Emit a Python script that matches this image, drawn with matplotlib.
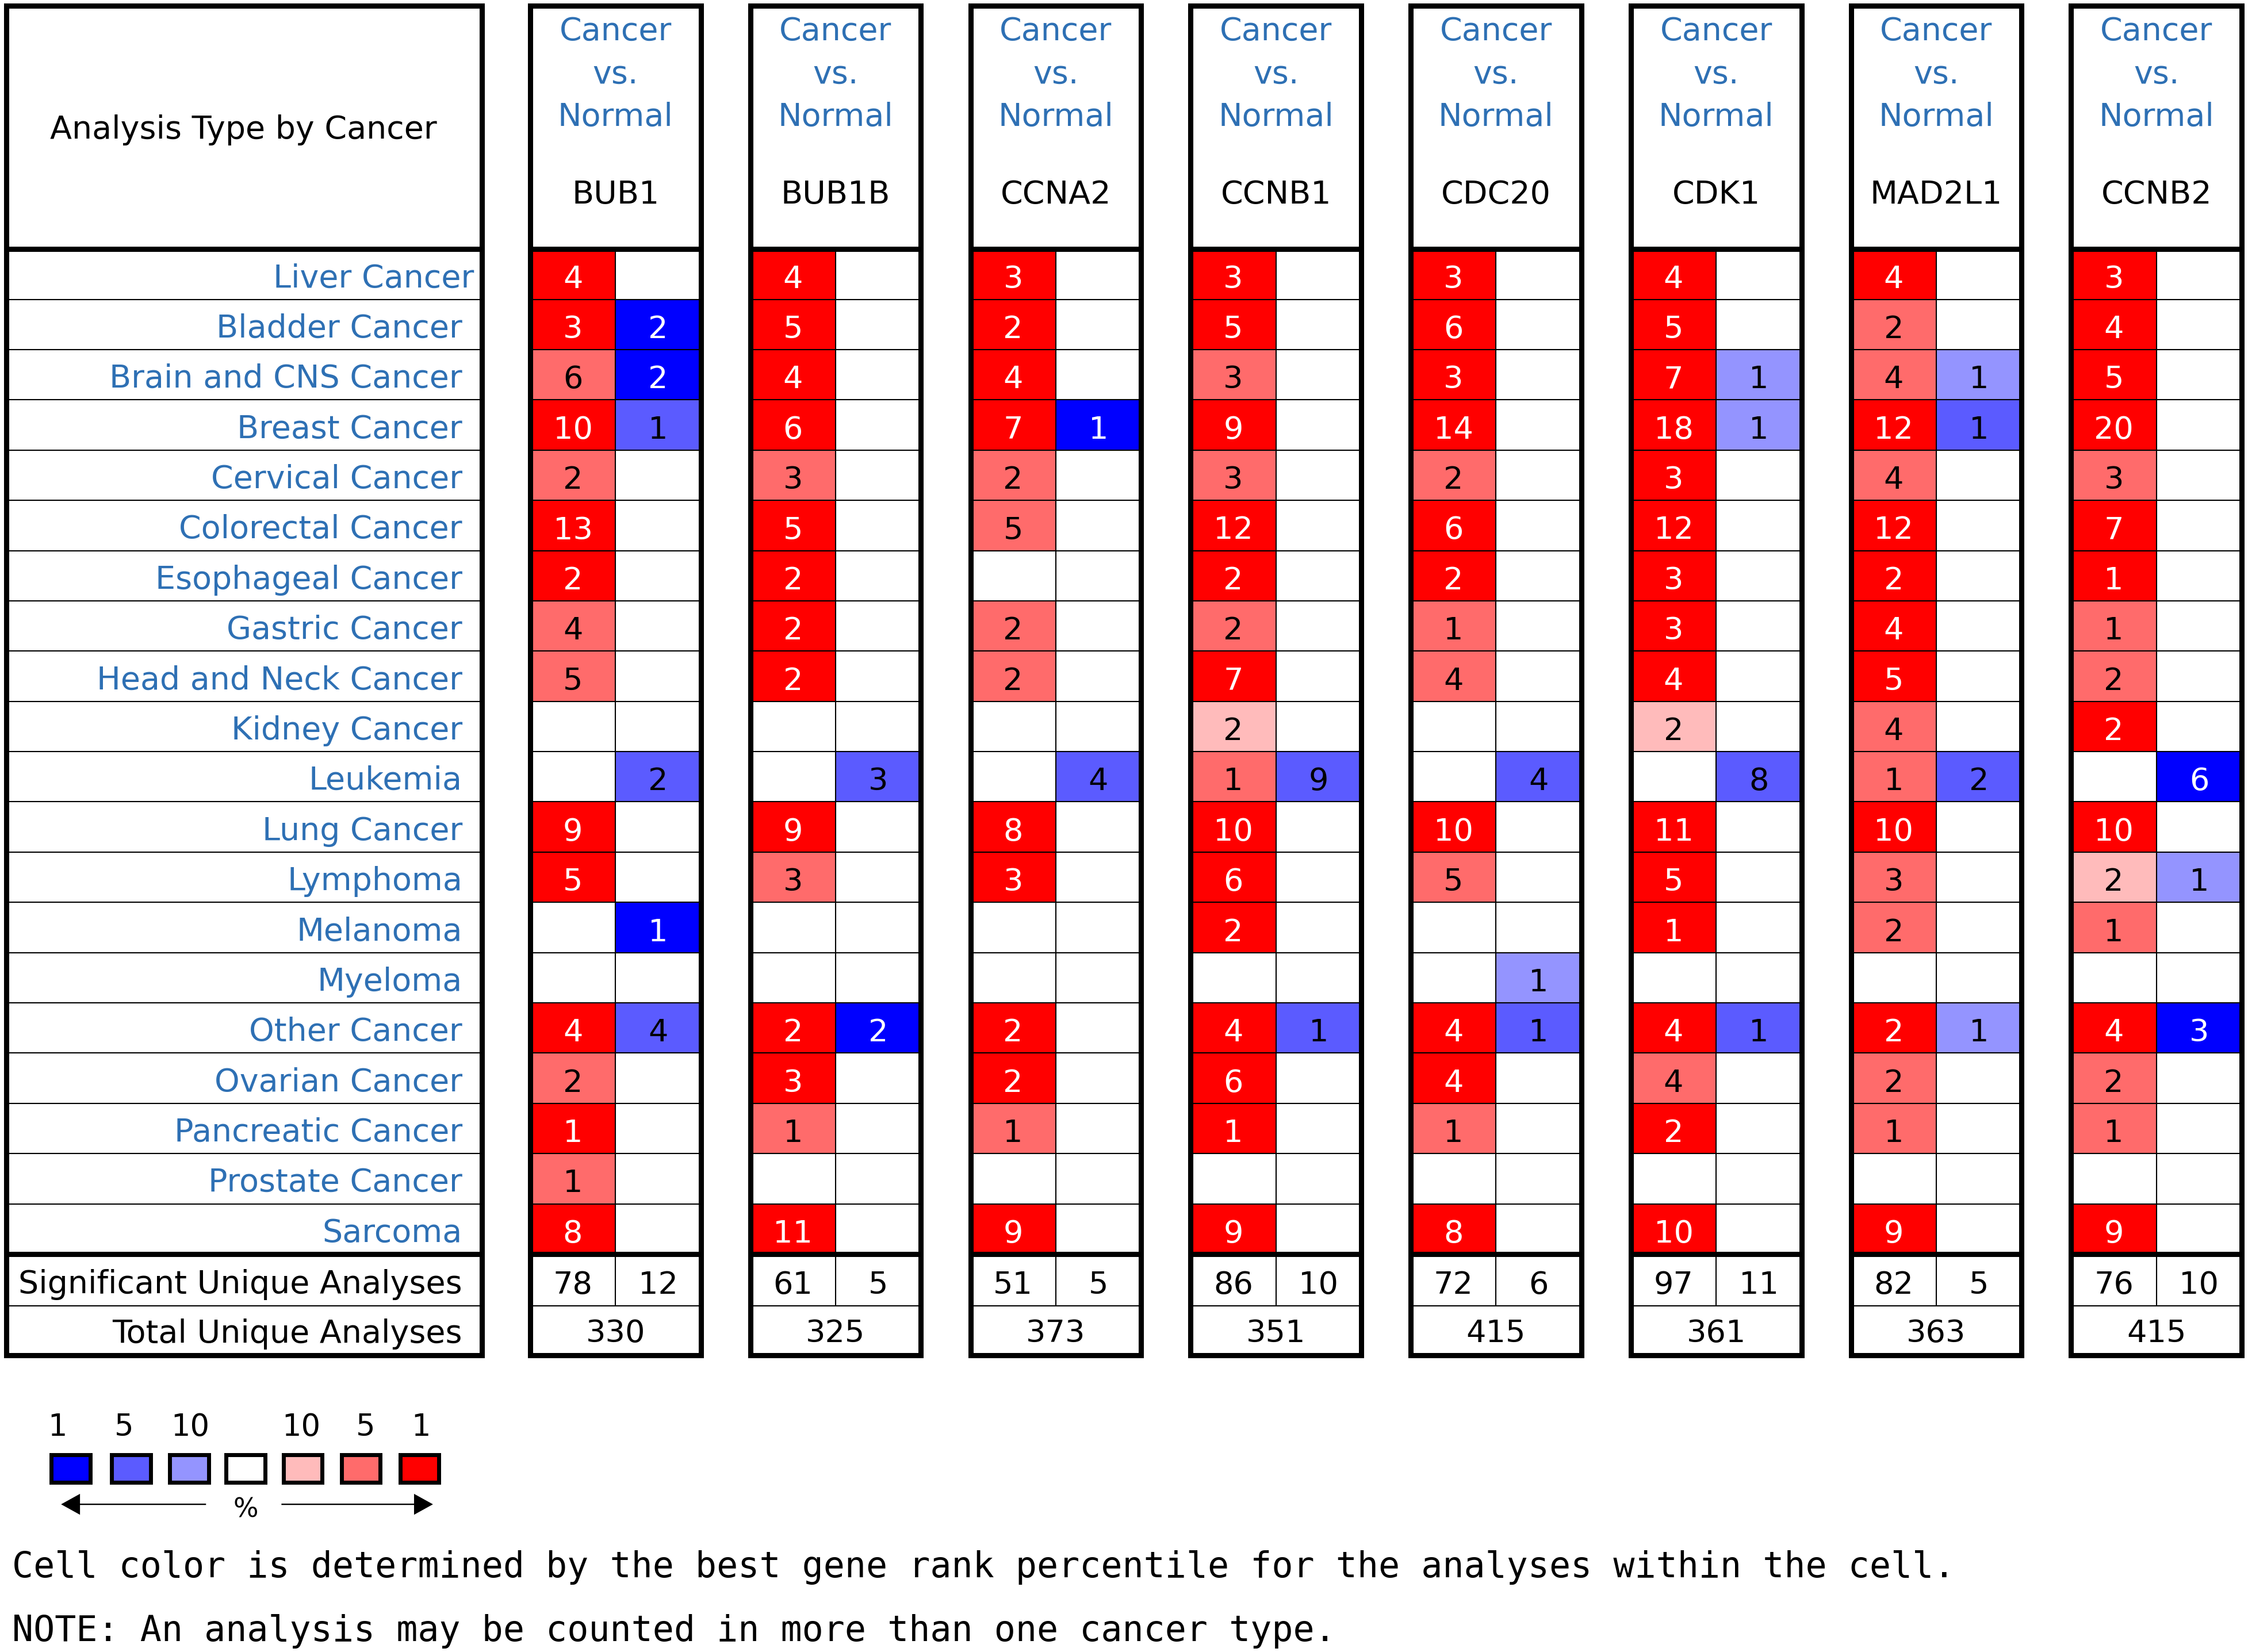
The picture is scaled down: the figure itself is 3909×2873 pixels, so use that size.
import matplotlib
matplotlib.use("Agg")
import matplotlib.pyplot as plt
from matplotlib.patches import Rectangle, FancyArrow

# ---------------- data ----------------
cancers = ["Liver Cancer", "Bladder Cancer", "Brain and CNS Cancer", "Breast Cancer",
           "Cervical Cancer", "Colorectal Cancer", "Esophageal Cancer", "Gastric Cancer",
           "Head and Neck Cancer", "Kidney Cancer", "Leukemia", "Lung Cancer", "Lymphoma",
           "Melanoma", "Myeloma", "Other Cancer", "Ovarian Cancer", "Pancreatic Cancer",
           "Prostate Cancer", "Sarcoma"]
genes = ["BUB1", "BUB1B", "CCNA2", "CCNB1", "CDC20", "CDK1", "MAD2L1", "CCNB2"]

# counts of significant analyses (0 = empty cell) and best gene-rank percentile (1/5/10, 0 = none)
bub1_up       = [4, 3, 6, 10, 2, 13, 2, 4, 5, 0, 0, 9, 5, 0, 0, 4, 2, 1, 1, 8]
bub1_up_pct   = [1, 1, 5, 1, 5, 1, 1, 5, 5, 0, 0, 1, 1, 0, 0, 1, 5, 1, 5, 1]
bub1_dn       = [0, 2, 2, 1, 0, 0, 0, 0, 0, 0, 2, 0, 0, 1, 0, 4, 0, 0, 0, 0]
bub1_dn_pct   = [0, 1, 1, 5, 0, 0, 0, 0, 0, 0, 5, 0, 0, 1, 0, 5, 0, 0, 0, 0]

bub1b_up      = [4, 5, 4, 6, 3, 5, 2, 2, 2, 0, 0, 9, 3, 0, 0, 2, 3, 1, 0, 11]
bub1b_up_pct  = [1, 1, 1, 1, 5, 1, 1, 1, 1, 0, 0, 1, 5, 0, 0, 1, 1, 5, 0, 1]
bub1b_dn      = [0, 0, 0, 0, 0, 0, 0, 0, 0, 0, 3, 0, 0, 0, 0, 2, 0, 0, 0, 0]
bub1b_dn_pct  = [0, 0, 0, 0, 0, 0, 0, 0, 0, 0, 5, 0, 0, 0, 0, 1, 0, 0, 0, 0]

ccna2_up      = [3, 2, 4, 7, 2, 5, 0, 2, 2, 0, 0, 8, 3, 0, 0, 2, 2, 1, 0, 9]
ccna2_up_pct  = [1, 1, 1, 1, 5, 5, 0, 5, 5, 0, 0, 1, 1, 0, 0, 1, 1, 5, 0, 1]
ccna2_dn      = [0, 0, 0, 1, 0, 0, 0, 0, 0, 0, 4, 0, 0, 0, 0, 0, 0, 0, 0, 0]
ccna2_dn_pct  = [0, 0, 0, 1, 0, 0, 0, 0, 0, 0, 5, 0, 0, 0, 0, 0, 0, 0, 0, 0]

ccnb1_up      = [3, 5, 3, 9, 3, 12, 2, 2, 7, 2, 1, 10, 6, 2, 0, 4, 6, 1, 0, 9]
ccnb1_up_pct  = [1, 1, 5, 1, 5, 1, 1, 5, 1, 10, 5, 1, 1, 1, 0, 1, 1, 1, 0, 1]
ccnb1_dn      = [0, 0, 0, 0, 0, 0, 0, 0, 0, 0, 9, 0, 0, 0, 0, 1, 0, 0, 0, 0]
ccnb1_dn_pct  = [0, 0, 0, 0, 0, 0, 0, 0, 0, 0, 5, 0, 0, 0, 0, 5, 0, 0, 0, 0]

cdc20_up      = [3, 6, 3, 14, 2, 6, 2, 1, 4, 0, 0, 10, 5, 0, 0, 4, 4, 1, 0, 8]
cdc20_up_pct  = [1, 1, 1, 1, 5, 1, 1, 5, 5, 0, 0, 1, 5, 0, 0, 1, 1, 5, 0, 1]
cdc20_dn      = [0, 0, 0, 0, 0, 0, 0, 0, 0, 0, 4, 0, 0, 0, 1, 1, 0, 0, 0, 0]
cdc20_dn_pct  = [0, 0, 0, 0, 0, 0, 0, 0, 0, 0, 5, 0, 0, 0, 10, 5, 0, 0, 0, 0]

cdk1_up       = [4, 5, 7, 18, 3, 12, 3, 3, 4, 2, 0, 11, 5, 1, 0, 4, 4, 2, 0, 10]
cdk1_up_pct   = [1, 1, 1, 1, 1, 1, 1, 1, 1, 10, 0, 1, 1, 1, 0, 1, 5, 1, 0, 1]
cdk1_dn       = [0, 0, 1, 1, 0, 0, 0, 0, 0, 0, 8, 0, 0, 0, 0, 1, 0, 0, 0, 0]
cdk1_dn_pct   = [0, 0, 10, 10, 0, 0, 0, 0, 0, 0, 5, 0, 0, 0, 0, 5, 0, 0, 0, 0]

mad2l1_up     = [4, 2, 4, 12, 4, 12, 2, 4, 5, 4, 1, 10, 3, 2, 0, 2, 2, 1, 0, 9]
mad2l1_up_pct = [1, 5, 5, 1, 5, 1, 1, 1, 1, 5, 5, 1, 5, 5, 0, 1, 5, 5, 0, 1]
mad2l1_dn     = [0, 0, 1, 1, 0, 0, 0, 0, 0, 0, 2, 0, 0, 0, 0, 1, 0, 0, 0, 0]
mad2l1_dn_pct = [0, 0, 10, 5, 0, 0, 0, 0, 0, 0, 5, 0, 0, 0, 0, 10, 0, 0, 0, 0]

ccnb2_up      = [3, 4, 5, 20, 3, 7, 1, 1, 2, 2, 0, 10, 2, 1, 0, 4, 2, 1, 0, 9]
ccnb2_up_pct  = [1, 1, 1, 1, 5, 1, 1, 5, 5, 1, 0, 1, 10, 5, 0, 1, 5, 5, 0, 1]
ccnb2_dn      = [0, 0, 0, 0, 0, 0, 0, 0, 0, 0, 6, 0, 1, 0, 0, 3, 0, 0, 0, 0]
ccnb2_dn_pct  = [0, 0, 0, 0, 0, 0, 0, 0, 0, 0, 1, 0, 10, 0, 0, 1, 0, 0, 0, 0]

sig_up   = [78, 61, 51, 86, 72, 97, 82, 76]
sig_down = [12, 5, 5, 10, 6, 11, 5, 10]
total    = [330, 325, 373, 351, 415, 361, 363, 415]

legend_labels = ["1", "5", "10", "", "10", "5", "1"]
note_lines = ["Cell color is determined by the best gene rank percentile for the analyses within the cell.",
              "NOTE: An analysis may be counted in more than one cancer type."]

up_counts = [bub1_up, bub1b_up, ccna2_up, ccnb1_up, cdc20_up, cdk1_up, mad2l1_up, ccnb2_up]
up_pcts = [bub1_up_pct, bub1b_up_pct, ccna2_up_pct, ccnb1_up_pct, cdc20_up_pct, cdk1_up_pct,
           mad2l1_up_pct, ccnb2_up_pct]
dn_counts = [bub1_dn, bub1b_dn, ccna2_dn, ccnb1_dn, cdc20_dn, cdk1_dn, mad2l1_dn, ccnb2_dn]
dn_pcts = [bub1_dn_pct, bub1b_dn_pct, ccna2_dn_pct, ccnb1_dn_pct, cdc20_dn_pct, cdk1_dn_pct,
           mad2l1_dn_pct, ccnb2_dn_pct]

# ---------------- style ----------------
RED = {1: "#FF0000", 5: "#FF6B6B", 10: "#FFBBBB"}
BLUE = {1: "#0000FF", 5: "#5B5BFF", 10: "#9494FF"}
legend_colors = [BLUE[1], BLUE[5], BLUE[10], "#FFFFFF", RED[10], RED[5], RED[1]]
LABEL_BLUE = "#2E70B4"
FONT = "DejaVu Sans"
THICK = 6.5
THIN = 1.5
NUM_FS = 39

fig = plt.figure(figsize=(39.09, 28.73), dpi=100)
ax = fig.add_axes([0, 0, 1, 1])
ax.set_xlim(0, 1568)
ax.set_ylim(1152, 0)
ax.axis("off")

TOP = 4.0
HEAD_BOT = 173.7
ROW_H = 35.04
ROWS_BOT = HEAD_BOT + 20 * ROW_H
SIG_BOT = 910.6
BOT = 945.0
LX0, LX1 = 4.3, 336.0
BX0, BSTEP, BW = 369.8, 153.55, 119.0


def hline(x0, x1, y, lw):
    ax.plot([x0, x1], [y, y], color="black", lw=lw, solid_capstyle="butt", zorder=3)


def vline(x, y0, y1, lw):
    ax.plot([x, x], [y0, y1], color="black", lw=lw, solid_capstyle="butt", zorder=3)


def frame(x0, x1):
    ax.add_patch(Rectangle((x0, TOP), x1 - x0, BOT - TOP, fill=False, ec="black",
                           lw=THICK, joinstyle="miter", zorder=4))
    hline(x0, x1, HEAD_BOT, THICK)
    hline(x0, x1, ROWS_BOT, THICK)
    for k in range(1, 20):
        hline(x0, x1, HEAD_BOT + k * ROW_H, THIN)
    hline(x0, x1, SIG_BOT, THIN)


# ---- left label block ----
frame(LX0, LX1)
ax.text(170, 96.7, "Analysis Type by Cancer", ha="center", va="baseline",
        fontsize=40, family=FONT, color="black")
for i, name in enumerate(cancers):
    top = HEAD_BOT + i * ROW_H
    xr = LX1 - 5.5 if i == 0 else LX1 - 13.5
    ax.text(xr, top + 26.5, name, ha="right", va="baseline",
            fontsize=40, family=FONT, color=LABEL_BLUE)
ax.text(LX1 - 13.5, 901.6, "Significant Unique Analyses", ha="right", va="baseline",
        fontsize=40, family=FONT, color="black")
ax.text(LX1 - 13.5, 936.3, "Total Unique Analyses", ha="right", va="baseline",
        fontsize=40, family=FONT, color="black")

# ---- gene blocks ----
for g, gene in enumerate(genes):
    x0 = BX0 + g * BSTEP
    x1 = x0 + BW
    xm = x0 + BW / 2
    for i in range(len(cancers)):
        top = HEAD_BOT + i * ROW_H
        for cnt, pct, pal, xc, xs in ((up_counts[g][i], up_pcts[g][i], RED, x0 + BW / 4, x0),
                                     (dn_counts[g][i], dn_pcts[g][i], BLUE, x0 + 3 * BW / 4, xm)):
            if cnt:
                ax.add_patch(Rectangle((xs, top), BW / 2, ROW_H, fc=pal[pct], ec="none", zorder=1))
                ax.text(xc, top + 27.0, str(cnt), ha="center", va="baseline", fontsize=NUM_FS,
                        family=FONT, color="white" if pct == 1 else "black", zorder=5)
    frame(x0, x1)
    vline(xm, HEAD_BOT, SIG_BOT, THIN)
    ax.text(xm, 27.8, "Cancer", ha="center", va="baseline", fontsize=40, family=FONT, color=LABEL_BLUE)
    ax.text(xm, 58.2, "vs.", ha="center", va="baseline", fontsize=40, family=FONT, color=LABEL_BLUE)
    ax.text(xm, 87.8, "Normal", ha="center", va="baseline", fontsize=40, family=FONT, color=LABEL_BLUE)
    ax.text(xm, 142.0, gene, ha="center", va="baseline", fontsize=40, family=FONT, color="black")
    ax.text(x0 + BW / 4, 902.0, str(sig_up[g]), ha="center", va="baseline", fontsize=NUM_FS, family=FONT)
    ax.text(x0 + 3 * BW / 4, 902.0, str(sig_down[g]), ha="center", va="baseline", fontsize=NUM_FS, family=FONT)
    ax.text(xm, 935.8, str(total[g]), ha="center", va="baseline", fontsize=NUM_FS, family=FONT)

# ---- legend ----
sq_x = [34.3, 76.5, 117.0, 156.3, 196.2, 236.8, 277.7]
num_x = [40.0, 86.6, 132.5, 0, 210.0, 255.0, 293.5]
for lab, col, sx, nx in zip(legend_labels, legend_colors, sq_x, num_x):
    ax.add_patch(Rectangle((sx + 1.5, 1014.5), 27.0, 19.3, fc=col, ec="black", lw=5,
                           joinstyle="miter", zorder=3))
    if lab:
        ax.text(nx, 1001.4, lab, ha="center", va="baseline", fontsize=38, family=FONT)
ax.add_patch(FancyArrow(143.7, 1049.0, -(143.7 - 42.6), 0, width=0.95, head_width=14.6,
                        head_length=13.2, length_includes_head=True, color="black", lw=0))
ax.add_patch(FancyArrow(196.3, 1049.0, 302.0 - 196.3, 0, width=0.95, head_width=14.6,
                        head_length=13.2, length_includes_head=True, color="black", lw=0))
ax.text(171.3, 1058.0, "%", ha="center", va="baseline", fontsize=33, family=FONT)

# ---- notes ----
ax.text(8.5, 1100.0, note_lines[0], ha="left", va="baseline", fontsize=44.4, family="DejaVu Sans Mono")
ax.text(8.5, 1144.4, note_lines[1], ha="left", va="baseline", fontsize=44.4, family="DejaVu Sans Mono")

fig.savefig("out.png", dpi=100, facecolor="white")
